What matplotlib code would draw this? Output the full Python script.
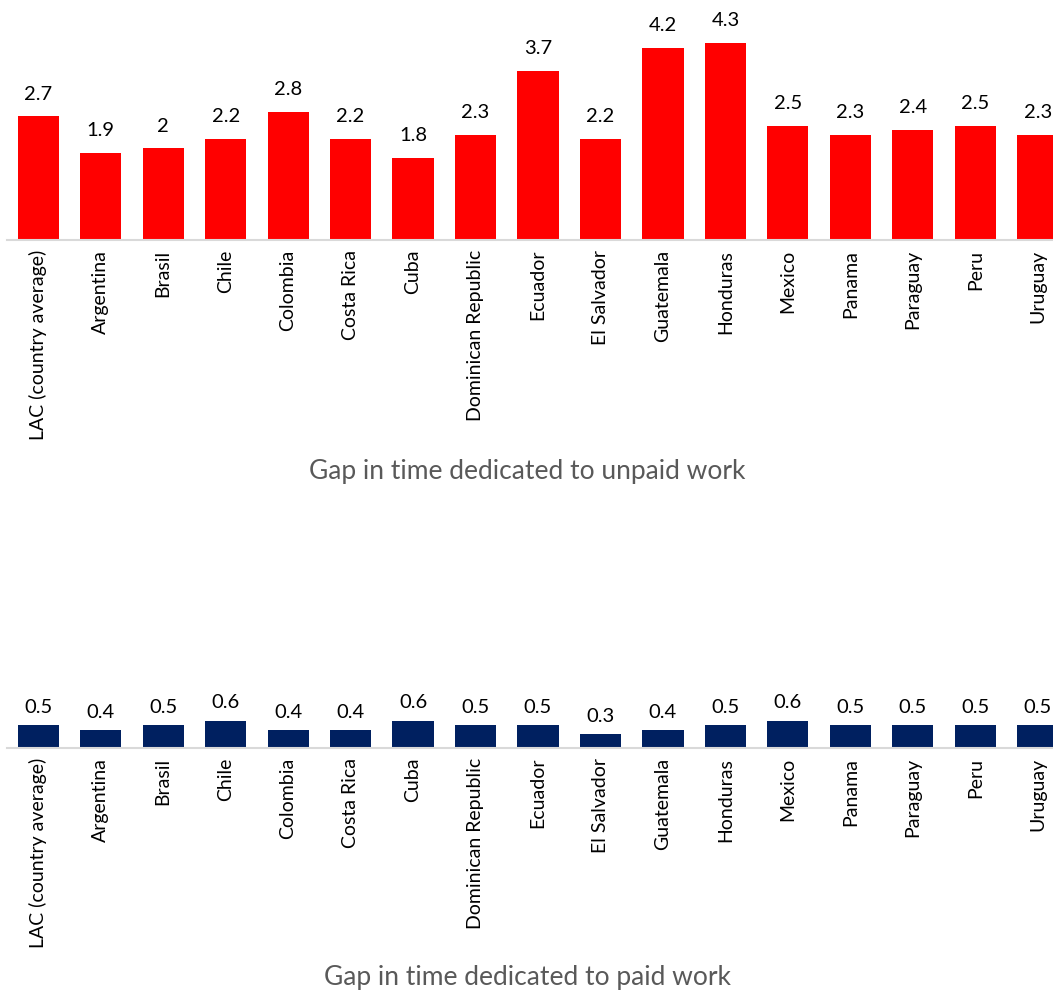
import matplotlib.pyplot as plt

countries = ['LAC (country average)', 'Argentina', 'Brasil', 'Chile', 'Colombia',
             'Costa Rica', 'Cuba', 'Dominican Republic', 'Ecuador', 'El Salvador',
             'Guatemala', 'Honduras', 'Mexico', 'Panama', 'Paraguay', 'Peru', 'Uruguay']
unpaid_gap = [2.7, 1.9, 2, 2.2, 2.8, 2.2, 1.8, 2.3, 3.7, 2.2, 4.2, 4.3, 2.5, 2.3, 2.4, 2.5, 2.3]
paid_gap = [0.5, 0.4, 0.5, 0.6, 0.4, 0.4, 0.6, 0.5, 0.5, 0.3, 0.4, 0.5, 0.6, 0.5, 0.5, 0.5, 0.5]

plt.rcParams['font.family'] = ['Lato', 'DejaVu Sans']

W, H = 1053, 991
fig = plt.figure(figsize=(W / 100, H / 100), dpi=100)

px_per_unit = 45.8
left = 7
right = 1069


def draw_panel(baseline_px, ymax, values, color, title, title_y, label_off):
    height_px = ymax * px_per_unit
    ax = fig.add_axes([left / W, 1 - baseline_px / H, (right - left) / W, height_px / H])
    x = range(len(values))
    bars = ax.bar(x, values, width=0.66, color=color)
    for b, v in zip(bars, values):
        ax.text(b.get_x() + b.get_width() / 2, v + label_off, f'{v:g}',
                ha='center', va='bottom', fontsize=14.5, color='#000000', clip_on=False)
    ax.set_xlim(-0.5, len(values) - 0.5)
    ax.set_ylim(0, ymax)
    ax.set_xticks(list(x))
    ax.set_xticklabels(countries, rotation=90, fontsize=14, color='#000000')
    ax.tick_params(axis='x', length=0, pad=7)
    ax.set_yticks([])
    for s in ['top', 'right', 'left']:
        ax.spines[s].set_visible(False)
    ax.spines['bottom'].set_color('#D9D9D9')
    ax.spines['bottom'].set_linewidth(1.5)
    fig.text(527 / W, 1 - title_y / H, title, ha='center', va='center',
             fontsize=19, color='#595959')


# unpaid work panel
draw_panel(240, 5.0, unpaid_gap, '#FF0000', 'Gap in time dedicated to unpaid work', 472, 0.3)
# paid work panel
draw_panel(748, 1.0, paid_gap, '#002060', 'Gap in time dedicated to paid work', 978, 0.2)

fig.savefig('out.png', dpi=100)
